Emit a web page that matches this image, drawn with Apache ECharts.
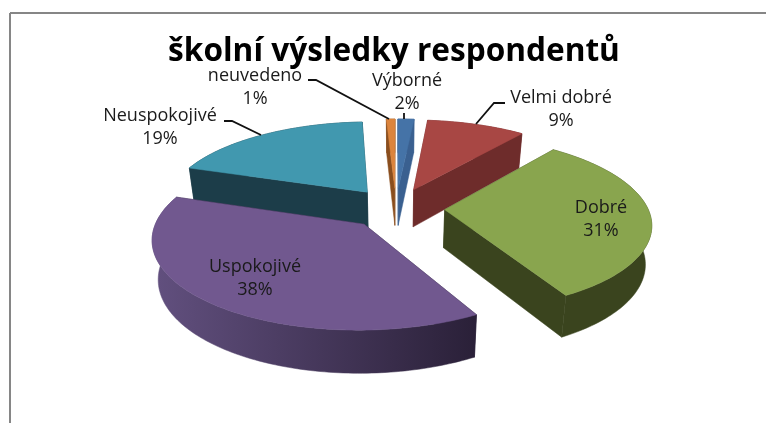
<!DOCTYPE html>
<html>
<head>
<meta charset="utf-8">
<style>
  html, body { margin: 0; padding: 0; background: #fff; }
  #chart { width: 766px; height: 423px; }
</style>
<script src="https://cdn.jsdelivr.net/npm/echarts@6/dist/echarts.min.js"></script>
</head>
<body>
<div id="chart"></div>
<script>
const categories = ['Výborné', 'Velmi dobré', 'Dobré', 'Uspokojivé', 'Neuspokojivé', 'neuvedeno'];
// the labels show them rounded
const percents = [1.5, 9.2, 31.2, 38.2, 19.1, 0.8];

const topColors = ['#4573a7', '#a84744', '#89a54e', '#71588f', '#4198af', '#db843d'];
const wallFrom = ['#3a6090', '#6e2c2b', '#3a441e', '#62507f', '#1c3d49', '#8a4e1e'];
const wallTo = ['#3a6090', '#6e2c2b', '#3a441e', '#2a2038', '#1c3d49', '#8a4e1e'];
// paint order, back slices first
const zOrder = [2, 3, 5, 6, 4, 1];

// label centre x, first line y and leader line per slice
const labelSpots = [[407, 81], [561, 98], [601, 208], [255, 267], [160, 116], [255, 76]];
const leaders = [
  [[404, 113], [404, 119]],
  [[505, 103], [494, 103], [476, 124]],
  null,
  null,
  [[224, 121], [232, 121], [261, 135]],
  [[308, 80], [316, 80], [389, 119]]
];

// perspective of the tilted pie
const cx = 396, cy = 208, scaleX = 203, scaleY = 85, persp = 0.148;
const explode = 0.24, depth = 38;

function project(u, v, lower) {
  const w = 1 + persp * v;
  let x = scaleX * u / w;
  let y = cy - scaleY * v / w;
  if (lower) {
    x *= 0.975;
    y += depth / (1 + 0.1 * v);
  }
  return [cx + x, y];
}

const total = percents.reduce((a, b) => a + b, 0);

function sliceAngles(index) {
  let before = 0;
  for (let i = 0; i < index; i++) before += percents[i];
  return [before / total * Math.PI * 2, (before + percents[index]) / total * Math.PI * 2];
}

function renderSlice(params, api) {
  const i = api.value(0);
  const [a0, a1] = sliceAngles(i);
  const mid = (a0 + a1) / 2;
  const ou = explode * Math.sin(mid), ov = explode * Math.cos(mid);
  const rim = [];
  const steps = Math.max(2, Math.ceil((a1 - a0) / 0.02));
  for (let s = 0; s <= steps; s++) {
    const a = a0 + (a1 - a0) * s / steps;
    rim.push([ou + Math.sin(a), ov + Math.cos(a)]);
  }
  const top = [project(ou, ov, false)].concat(rim.map(p => project(p[0], p[1], false)));
  const arcWall = rim.map(p => project(p[0], p[1], false))
    .concat(rim.slice().reverse().map(p => project(p[0], p[1], true)));
  const first = rim[0], last = rim[rim.length - 1];
  const face = p => [project(ou, ov, false), project(p[0], p[1], false), project(p[0], p[1], true), project(ou, ov, true)];
  const fill = c => ({ fill: c, stroke: c, lineWidth: 0.5 });
  const wallFill = new echarts.graphic.LinearGradient(0, 0, 1, 0, [
    { offset: 0, color: wallFrom[i] },
    { offset: 1, color: wallTo[i] }
  ]);
  return {
    type: 'group',
    children: [
      { type: 'polygon', z2: zOrder[i] * 10, shape: { points: face(first) }, style: fill(wallTo[i]) },
      { type: 'polygon', z2: zOrder[i] * 10 + 1, shape: { points: face(last) }, style: fill(wallTo[i]) },
      { type: 'polygon', z2: zOrder[i] * 10 + 2, shape: { points: arcWall }, style: { fill: wallFill, stroke: wallFill, lineWidth: 0.5 } },
      { type: 'polygon', z2: zOrder[i] * 10 + 3, shape: { points: top }, style: fill(topColors[i]) }
    ]
  };
}

const graphics = [
  { type: 'line', shape: { x1: 10, y1: 13, x2: 10, y2: 423 }, style: { stroke: '#868686', lineWidth: 2 } },
  { type: 'line', shape: { x1: 10, y1: 13, x2: 766, y2: 13 }, style: { stroke: '#868686', lineWidth: 2 } }
];
categories.forEach((name, i) => {
  graphics.push({
    type: 'text',
    z: 10,
    x: labelSpots[i][0],
    y: labelSpots[i][1] - 12,
    style: {
      text: name + '\n' + Math.round(percents[i]) + '%',
      fontFamily: 'Open Sans',
      fontSize: 18,
      lineHeight: 23,
      fill: '#1a1a1a',
      align: 'center',
      verticalAlign: 'top'
    }
  });
  if (leaders[i]) {
    graphics.push({
      type: 'polyline',
      z: 9,
      shape: { points: leaders[i] },
      style: { stroke: '#111', lineWidth: 1.8, fill: null }
    });
  }
});

const chart = echarts.init(document.getElementById('chart'), null, { renderer: 'canvas' });
chart.setOption({
  animation: false,
  backgroundColor: '#fff',
  title: {
    text: 'školní výsledky respondentů',
    left: 389,
    top: 31,
    textAlign: 'center',
    textStyle: { fontFamily: 'Open Sans', fontWeight: 'bold', fontSize: 31.6, color: '#000' }
  },
  graphic: graphics,
  series: [{
    type: 'custom',
    coordinateSystem: 'none',
    silent: true,
    renderItem: renderSlice,
    data: percents.map((v, i) => [i, v])
  }]
});
</script>
</body>
</html>
